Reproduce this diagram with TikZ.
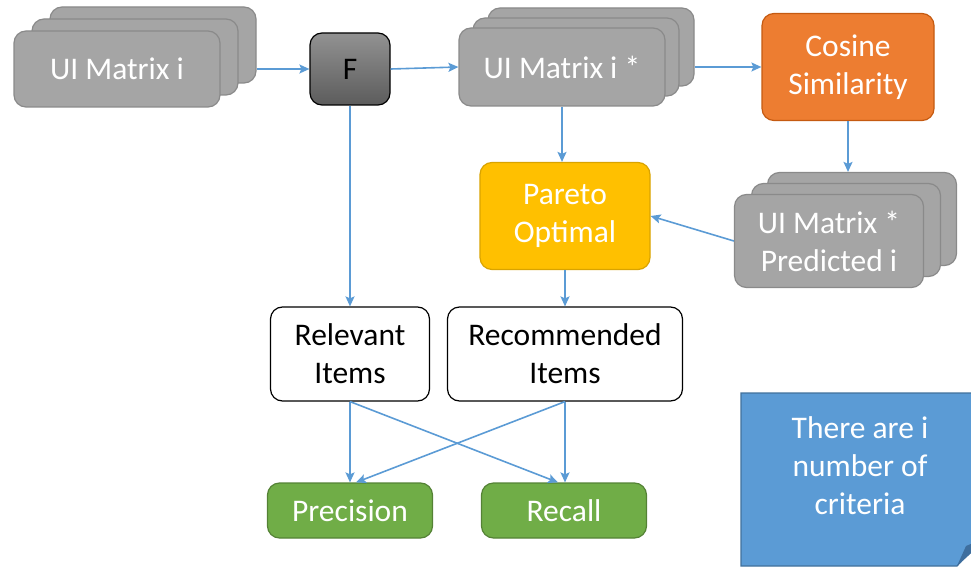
\documentclass[tikz,border=0pt]{standalone}
\usepackage{fontspec}
\setmainfont{Carlito}
\usetikzlibrary{arrows.meta}

\definecolor{boxgray}{HTML}{A5A5A5}
\definecolor{grayline}{HTML}{8A8A8A}
\definecolor{linkblue}{HTML}{5B9BD5}
\definecolor{notefill}{HTML}{5B9BD5}
\definecolor{noteline}{HTML}{41719C}
\definecolor{notefold}{HTML}{3E6E9E}
\definecolor{cosorange}{HTML}{ED7D31}
\definecolor{cosline}{HTML}{C55A11}
\definecolor{paretoyellow}{HTML}{FFC000}
\definecolor{paretoline}{HTML}{D9A300}
\definecolor{metricgreen}{HTML}{70AD47}
\definecolor{metricline}{HTML}{548235}

\tikzset{
  box/.style={rounded corners=12pt, draw, line width=1.2pt, inner sep=0pt,
    align=center, font=\fontsize{31.5}{38}\selectfont},
  graybox/.style={box, fill=boxgray, draw=grayline, text=white},
  whitebox/.style={box, fill=white, draw=black, text=black},
  greenbox/.style={box, fill=metricgreen, draw=metricline, text=white},
  link/.style={draw=linkblue, line width=1.6pt,
    -{Stealth[length=10pt,width=9pt,inset=2pt]}},
}

\begin{document}
\begin{tikzpicture}[x=1pt,y=-1pt]
\clip (0,0) rectangle (971,567);

% stack of input matrices
\node[graybox, minimum width=206pt, minimum height=76pt] (uiC) at (153,45) {};
\node[graybox, minimum width=206pt, minimum height=76pt] (uiB) at (135,57) {};
\node[graybox, minimum width=206pt, minimum height=76pt] (uiA) at (117,69) {UI Matrix i};

% aggregation function
\node[box, draw=black, top color={rgb,255:red,146;green,146;blue,146},
      bottom color={rgb,255:red,92;green,92;blue,92},
      minimum width=80pt, minimum height=72pt] (F) at (350,69) {F};

% stack of transformed matrices
\node[graybox, minimum width=206pt, minimum height=78pt] (usC) at (591,47) {};
\node[graybox, minimum width=206pt, minimum height=78pt] (usB) at (576,57) {};
\node[graybox, minimum width=206pt, minimum height=78pt] (usA) at (562,67) {UI Matrix i *};

% cosine similarity
\node[box, fill=cosorange, draw=cosline, text=white,
      minimum width=172pt, minimum height=107pt] (cos) at (848,67) {Cosine\\Similarity};

% stack of predicted matrices
\node[graybox, minimum width=189pt, minimum height=93pt] (prC) at (862,219) {};
\node[graybox, minimum width=189pt, minimum height=93pt] (prB) at (846,230) {};
\node[graybox, minimum width=189pt, minimum height=93pt] (prA) at (829,241) {UI Matrix *\\Predicted i};

% pareto optimal selection
\node[box, fill=paretoyellow, draw=paretoline, text=white,
      minimum width=170pt, minimum height=107pt] (par) at (565,216) {Pareto\\Optimal};

% item sets
\node[whitebox, minimum width=159pt, minimum height=94pt] (rel) at (350,354) {Relevant\\Items};
\node[whitebox, minimum width=235pt, minimum height=94pt] (rec) at (565,354) {Recommended\\Items};

% metrics
\node[greenbox, minimum width=165pt, minimum height=55pt] (prec) at (350,510.5) {Precision};
\node[greenbox, minimum width=165pt, minimum height=55pt] (recall) at (564,510.5) {Recall};

% note with folded corner
\fill[notefill, draw=noteline, line width=1.2pt]
  (741,393) -- (990,393) -- (990,530) -- (957,566) -- (741,566) -- cycle;
\fill[notefold] (957,566) -- (966,546) -- (990,536) -- cycle;
\node[align=center, text=white, font=\fontsize{31.5}{38}\selectfont] (note) at (860,466)
  {There are i\\number of\\criteria};

% connectors
\draw[link] (uiC.east |- uiA.center) -- (F.west);
\draw[link] (F.east) -- (usA.west);
\draw[link] (usC.east |- usA.center) -- (cos.west);
\draw[link] (cos.south) -- (cos.south |- prC.north);
\draw[link] (usA.south) -- (usA.south |- par.north);
\draw[link] (prA.west) -- (par.east);
\draw[link] (par.south) -- (par.south |- rec.north);
\draw[link] (F.south) -- (F.south |- rel.north);
\draw[link] (rel.south) -- (prec.north);
\draw[link] (rel.south) -- ([xshift=-6pt]recall.north);
\draw[link] (rec.south) -- ([xshift=6pt]prec.north);
\draw[link] (rec.south) -- (rec.south |- recall.north);
\end{tikzpicture}
\end{document}
